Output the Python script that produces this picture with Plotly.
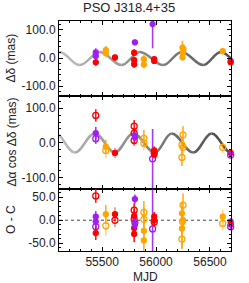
import plotly.graph_objects as go
from plotly.subplots import make_subplots

# ---------------- data ----------------
# source codes: r = red, o = orange, p = purple ; open: 1 = open circle ; faint: 1 = pale error bar
dec_mjd   = [55441, 55441, 55441, 55534, 55534, 55619, 55804, 55797, 55797, 55797, 55887, 55887,
             55968, 55983, 55983, 56245, 56255, 56250, 56245, 56618, 56692, 56692]
dec_val   = [20, 7, -15, 28, 17, 2, 56, 19, -7, -22, -4, -23,
             121, -4, -10, 37, 31, 20, 3, 25, -10, -15]
dec_err   = [15, 15, 12, 15, 18, 12, 10, 12, 12, 12, 15, 15,
             86, 10, 10, 25, 20, 20, 15, 12, 8, 8]
dec_src   = ['p', 'p', 'r', 'o', 'o', 'r', 'p', 'r', 'r', 'r', 'o', 'o',
             'p', 'r', 'r', 'o', 'o', 'o', 'o', 'o', 'p', 'r']
dec_open  = [0] * 22
dec_faint = [0, 0, 0, 0, 1, 1, 0, 0, 0, 0, 0, 1, 0, 0, 1, 0, 1, 0, 1, 1, 0, 1]

ra_mjd   = [55441, 55441, 55441, 55534, 55534, 55619, 55797, 55797, 55797, 55804, 55804, 55887,
            55887, 55968, 55983, 55983, 55983, 56250, 56240, 56250, 56240, 56618, 56692, 56692]
ra_val   = [79, 28, 12, -11, -22, -29, 48, 28, 7, 21, 16, 13,
            -1, -46, -22, -29, -34, 23, -6, -13, -42, -13, -29, -35]
ra_err   = [18, 18, 15, 20, 22, 15, 18, 15, 15, 12, 12, 25,
            20, 86, 12, 12, 12, 25, 25, 25, 25, 15, 8, 8]
ra_src   = ['r', 'p', 'p', 'o', 'o', 'r', 'r', 'r', 'r', 'p', 'p', 'o',
            'o', 'p', 'r', 'r', 'r', 'o', 'o', 'o', 'o', 'o', 'r', 'p']
ra_open  = [1, 0, 1, 0, 1, 0, 1, 1, 1, 0, 0, 1, 1, 1, 0, 1, 0, 1, 1, 1, 1, 1, 0, 1]
ra_faint = [0, 0, 0, 0, 1, 1, 0, 0, 0, 0, 0, 0, 1, 0, 0, 0, 1, 0, 0, 1, 0, 1, 0, 0]

oc_mjd   = [55441, 55441, 55441, 55441, 55441, 55534, 55534, 55619, 55619, 55797, 55797, 55797,
            55797, 55797, 55804, 55804, 55804, 55887, 55887, 55887, 55887, 55968, 55983, 55983,
            55983, 56250, 56240, 56245, 56250, 56240, 56240, 56618, 56618, 56692, 56692, 56692]
oc_val   = [53, 8, -3, -14, -28, 13, -12, 13, 0, 22, 9, 2,
            -17, -30, 46, -5, -10, 17, 2, -23, -44, -19, 8, 0,
            -4, 33, 15, -3, 0, -18, -41, 8, -7, -3, -9, -14]
oc_err   = [15, 12, 12, 12, 15, 20, 22, 15, 15, 15, 15, 15,
            15, 18, 10, 10, 10, 25, 25, 25, 25, 86, 10, 10,
            10, 25, 25, 25, 20, 45, 20, 15, 15, 8, 8, 8]
oc_src   = ['r', 'p', 'p', 'p', 'r', 'o', 'o', 'r', 'r', 'r', 'r', 'r',
            'r', 'r', 'p', 'p', 'p', 'o', 'o', 'o', 'o', 'p', 'r', 'r',
            'r', 'o', 'o', 'o', 'o', 'o', 'o', 'o', 'o', 'p', 'r', 'p']
oc_open  = [1, 0, 0, 1, 0, 0, 1, 0, 1, 1, 0, 1,
            0, 0, 0, 1, 0, 1, 1, 0, 0, 1, 0, 0,
            1, 1, 0, 1, 0, 0, 1, 0, 1, 0, 0, 1]
oc_faint = [0, 0, 0, 0, 0, 0, 1, 1, 1, 0, 0, 0,
            0, 0, 0, 0, 0, 0, 0, 0, 0, 0, 0, 0,
            0, 0, 0, 0, 0, 0, 0, 1, 1, 0, 0, 0]

# parallax model curves: extrema (MJD, value)
dec_ext_mjd = [55104, 55293, 55479, 55680, 55850, 56066, 56237, 56438, 56600, 56790]
dec_ext_val = [22, -25, 22, -25, 22, -25, 22, -25, 22, -25]
ra_ext_mjd  = [55065, 55247, 55432, 55618, 55788, 55989, 56144, 56345, 56516, 56695]
ra_ext_val  = [27, -28, 27, -28, 27, -28, 27, -28, 27, -28]

x_ticks = [55500, 56000, 56500]
x_tick_text = ['55500', '56000', '56500']
big_ticks = [-100, 0, 100]
big_tick_text = ['-100.0', '0.0', '100.0']
oc_ticks = [-50, 0, 50]
oc_tick_text = ['-50.0', '0.0', '50.0']

title_text = 'PSO J318.4+35'
ylabels = ['Δδ (mas)', 'Δα cos Δδ (mas)', 'O - C']
xlabel = 'MJD'

# ---------------- figure ----------------
RGB = {'r': (255, 0, 0), 'o': (255, 165, 0), 'p': (160, 32, 240)}
FONT = 'Liberation Sans, Arial, sans-serif'
X_RANGE = [55100, 56695]
Y_RANGES = [[-135, 132], [-133, 135], [-67, 68]]

fig = make_subplots(rows=3, cols=1, shared_xaxes=True, vertical_spacing=0,
                    row_heights=[75, 93, 62])

panels = [
    (dec_mjd, dec_val, dec_err, dec_src, dec_open, dec_faint),
    (ra_mjd, ra_val, ra_err, ra_src, ra_open, ra_faint),
    (oc_mjd, oc_val, oc_err, oc_src, oc_open, oc_faint),
]

for row, (mj, vv, ee, ss, oo, ff) in enumerate(panels, start=1):
    lo, hi = Y_RANGES[row - 1]
    for m, v, e, s, o, f in zip(mj, vv, ee, ss, oo, ff):
        r, g, b = RGB[s]
        col = f'rgb({r},{g},{b})'
        bar = f'rgba({r},{g},{b},{0.45 if f else 0.9})'
        clip = (v + e > hi) or (v - e < lo)
        fig.add_trace(go.Scatter(
            x=[m], y=[v], mode='markers', showlegend=False, cliponaxis=clip,
            hoverinfo='skip',
            marker=dict(symbol='circle-open' if o else 'circle',
                        size=6 if o else 5, color=col,
                        line=dict(width=1.3, color=col)),
            error_y=dict(type='data', array=[e], visible=True, color=bar,
                         thickness=1.6, width=0),
        ), row=row, col=1)

# model curves as chains of half-period cubic Beziers with a light-to-dark gradient
A = 0.3634
curves = [(dec_ext_mjd, dec_ext_val, 'x', 'y'), (ra_ext_mjd, ra_ext_val, 'x2', 'y2')]
for em, ev, xr, yr in curves:
    n = len(em) - 1
    for i in range(n):
        x0, x1 = em[i], em[i + 1]
        y0, y1 = ev[i], ev[i + 1]
        h = x1 - x0
        path = f'M {x0},{y0} C {x0 + A * h},{y0} {x1 - A * h},{y1} {x1},{y1}'
        lev = int(185 - (185 - 80) * i / (n - 1))
        fig.add_shape(type='path', path=path, xref=xr, yref=yr, layer='below',
                      line=dict(color=f'rgb({lev},{lev},{lev})', width=2.5))

# dotted zero line in O-C panel
fig.add_shape(type='line', xref='x3 domain', yref='y3', x0=0, x1=1, y0=0, y1=0,
              line=dict(color='#444', width=1, dash='dot'), layer='below')

axis_common = dict(showline=True, linecolor='black', linewidth=1, mirror='ticks',
                   ticks='inside', ticklen=4, tickcolor='black', showgrid=False,
                   zeroline=False, tickfont=dict(family=FONT, size=12, color='#222'))

for row in (1, 2, 3):
    fig.update_xaxes(range=X_RANGE, tickvals=x_ticks, ticktext=x_tick_text,
                     minor=dict(dtick=100, tick0=55000, ticks='inside', ticklen=2,
                                tickcolor='black'),
                     row=row, col=1, **axis_common)
for row in (1, 2):
    fig.update_yaxes(range=Y_RANGES[row - 1], tickvals=big_ticks, ticktext=big_tick_text,
                     minor=dict(dtick=20, tick0=0, ticks='inside', ticklen=2,
                                tickcolor='black'),
                     row=row, col=1, **axis_common)
fig.update_yaxes(range=Y_RANGES[2], tickvals=oc_ticks, ticktext=oc_tick_text,
                 minor=dict(dtick=10, tick0=0, ticks='inside', ticklen=2,
                            tickcolor='black'),
                 row=3, col=1, **axis_common)

PLOT_H = 230.0
PLOT_W = 172.0
ann = []
ann.append(dict(text=title_text, xref='paper', yref='paper', x=(129 - 59) / PLOT_W,
                y=1 + (21 - 7.5) / PLOT_H, xanchor='center', yanchor='middle',
                showarrow=False, font=dict(family=FONT, size=13, color='#222')))
label_y = [(21 + 96) / 2, (96 + 189) / 2, (189 + 251) / 2]
for lab, cy in zip(ylabels, label_y):
    ann.append(dict(text=lab, xref='paper', yref='paper', x=(11 - 59) / PLOT_W,
                    y=(251 - cy) / PLOT_H, xanchor='center', yanchor='middle',
                    textangle=-90, showarrow=False,
                    font=dict(family=FONT, size=12, color='#222')))
ann.append(dict(text=xlabel, xref='paper', yref='paper', x=(145 - 59) / PLOT_W,
                y=-(276.5 - 251) / PLOT_H, xanchor='center', yanchor='middle',
                showarrow=False, font=dict(family=FONT, size=12, color='#222')))

fig.update_layout(width=249, height=283, margin=dict(l=59, r=18, t=21, b=32),
                  paper_bgcolor='white', plot_bgcolor='white', annotations=ann,
                  font=dict(family=FONT, size=12, color='#222'), hovermode=False)

fig.write_html('out.html', config={'displayModeBar': False, 'staticPlot': True},
               post_script="document.body.style.margin='0';document.body.style.padding='0';")
